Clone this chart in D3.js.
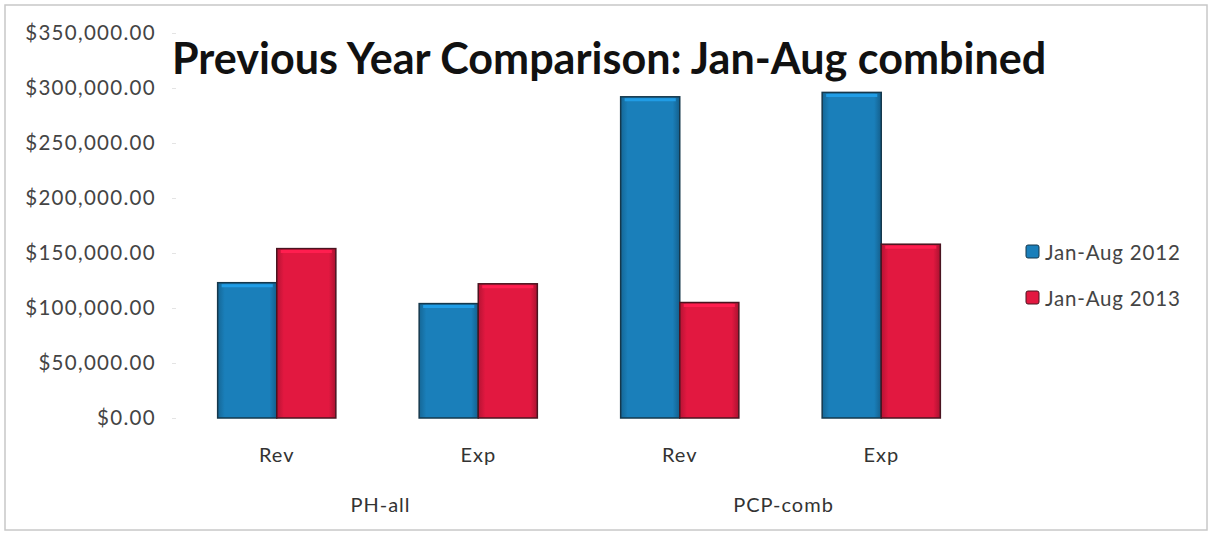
<!DOCTYPE html>
<html><head><meta charset="utf-8">
<script src="https://cdn.jsdelivr.net/npm/d3@7"></script>
<style>body{margin:0;background:#fff;}svg{display:block;}</style>
</head><body>
<svg id="c" width="1212" height="534"></svg>
<script>
const groups = ["PH-all", "PCP-comb"];
const subCategories = ["Rev", "Exp"];
const seriesNames = ["Jan-Aug 2012", "Jan-Aug 2013"];
const values2012 = [123000, 104000, 292000, 296000];
const values2013 = [154000, 122000, 105000, 158000];
const yTicks = [0, 50000, 100000, 150000, 200000, 250000, 300000, 350000];
const colors = ["#1a7fba", "#e21840"];
const edgeColors = ["#15384c", "#4a1420"];

(function(){
const svg = d3.select("#c");
const W = 1212, H = 534;
svg.append("rect").attr("x",5).attr("y",5).attr("width",W-10).attr("height",H-9)
  .attr("fill","#fff").attr("stroke","#c8c8c8").attr("stroke-width",1.5);

const defs = svg.append("defs");
colors.forEach((c,i)=>{
  const g = defs.append("linearGradient").attr("id","g"+i).attr("x1","0").attr("x2","1").attr("y1","0").attr("y2","0");
  const base = d3.color(c);
  g.append("stop").attr("offset","0%").attr("stop-color", base.darker(0.6));
  g.append("stop").attr("offset","12%").attr("stop-color", base);
  g.append("stop").attr("offset","88%").attr("stop-color", base);
  g.append("stop").attr("offset","100%").attr("stop-color", base.darker(0.8));
});

const pLeft = 176, pRight = 982, pTop = 33, pBottom = 418;
const y = d3.scaleLinear().domain([0,350000]).range([pBottom, pTop]);
const cats = [];
groups.forEach(g=>subCategories.forEach(s=>cats.push(g+"|"+s)));
const x = d3.scaleBand().domain(cats).range([pLeft, pRight]).paddingInner(0).paddingOuter(0);
const xs = d3.scaleBand().domain(seriesNames).range([0, x.bandwidth()]).paddingInner(0).paddingOuter(0.705);

const font = "Lato, 'Open Sans', sans-serif";
const fmt = d => "$" + d3.format(",.2f")(d);
const yAxis = d3.axisLeft(y).tickValues(yTicks).tickFormat(fmt).tickSize(4).tickPadding(16);
const ya = svg.append("g").attr("transform",`translate(${pLeft},0)`).call(yAxis);
ya.select(".domain").remove();
ya.selectAll(".tick line").attr("stroke","#e4e4e4");
ya.selectAll(".tick text").attr("fill","#444").style("font-family",font)
  .style("font-size","20.5px").style("letter-spacing","1.3px");

const data = [];
cats.forEach((c,i)=>{
  data.push({cat:c, s:0, v:values2012[i]});
  data.push({cat:c, s:1, v:values2013[i]});
});
const bars = svg.append("g");
bars.selectAll("rect").data(data).join("rect")
  .attr("x", d=> x(d.cat)+xs(seriesNames[d.s]))
  .attr("y", d=> y(d.v))
  .attr("width", xs.bandwidth())
  .attr("height", d=> y(0)-y(d.v))
  .attr("fill", d=>`url(#g${d.s})`)
  .attr("stroke", d=>edgeColors[d.s]).attr("stroke-width",1.5);
bars.selectAll("line.hl").data(data).join("line").attr("class","hl")
  .attr("x1", d=> x(d.cat)+xs(seriesNames[d.s])+4)
  .attr("x2", d=> x(d.cat)+xs(seriesNames[d.s])+xs.bandwidth()-4)
  .attr("y1", d=> y(d.v)+3).attr("y2", d=> y(d.v)+3)
  .attr("stroke", d=> d3.color(colors[d.s]).brighter(0.6)).attr("stroke-width",3);

const lab = svg.append("g").style("font-family",font).attr("fill","#333")
  .style("font-size","20px").style("letter-spacing","1px");
lab.selectAll("text.sub").data(cats).join("text").attr("class","sub")
  .attr("x", d=> x(d)+x.bandwidth()/2).attr("y", 462).attr("text-anchor","middle")
  .text(d=>d.split("|")[1]);
lab.selectAll("text.grp").data(groups).join("text").attr("class","grp")
  .attr("x", d=> x(d+"|"+subCategories[0]) + x.bandwidth() + 3).attr("y", 512).attr("text-anchor","middle")
  .text(d=>d);

const t = svg.append("text").attr("x",172).attr("y",74)
  .style("font-family",font).style("font-weight","bold")
  .style("font-size","40px").attr("fill","#111").text("Previous Year Comparison: Jan-Aug combined");
const tw = t.node().getComputedTextLength();
t.style("font-size", (40*875/tw).toFixed(1)+"px");

const lg = svg.append("g").style("font-family",font);
seriesNames.forEach((s,i)=>{
  const yy = 252 + i*46;
  lg.append("rect").attr("x",1026).attr("y",yy-7).attr("width",13).attr("height",13).attr("rx",2)
    .attr("fill",colors[i]).attr("stroke",edgeColors[i]).attr("stroke-width",1);
  lg.append("text").attr("x",1045).attr("y",yy+8).style("font-size","20.5px")
    .style("letter-spacing","0.8px").attr("fill","#444").text(s);
});
})();
</script>
</body></html>
